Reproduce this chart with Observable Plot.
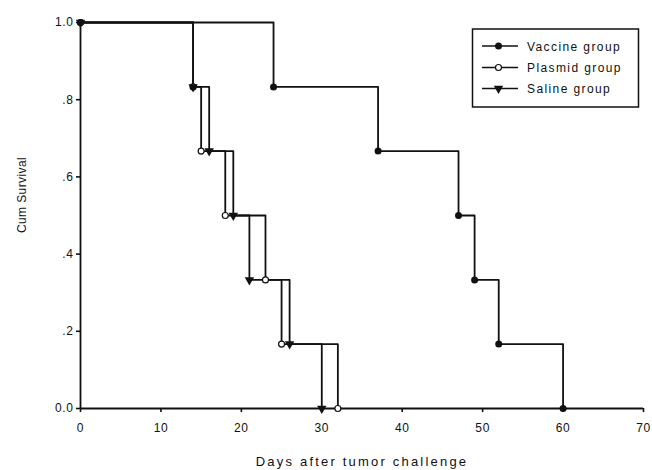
<!DOCTYPE html>
<html>
<head>
<meta charset="utf-8">
<script src="https://cdn.jsdelivr.net/npm/d3@7"></script>
<script src="https://cdn.jsdelivr.net/npm/@observablehq/plot@0.6"></script>
<style>
  html, body { margin: 0; padding: 0; background: #fff; }
  #chart { position: relative; width: 652px; height: 470px; }
</style>
</head>
<body>
<div id="chart"></div>
<script>
const groups = ["Vaccine group", "Plasmid group", "Saline group"];
const vaccineDays = [0, 24, 37, 47, 49, 52, 60];
const vaccineSurv = [1, 0.833, 0.667, 0.5, 0.333, 0.167, 0];
const plasmidDays = [0, 14, 15, 18, 23, 25, 32];
const plasmidSurv = [1, 0.833, 0.667, 0.5, 0.333, 0.167, 0];
const salineDays = [0, 14, 16, 19, 21, 26, 30];
const salineSurv = [1, 0.833, 0.667, 0.5, 0.333, 0.167, 0];
const dayTicks = [0, 10, 20, 30, 40, 50, 60, 70];
const survTicks = [0, 0.2, 0.4, 0.6, 0.8, 1];
const survTickLabels = ["0.0", ".2", ".4", ".6", ".8", "1.0"];
const xLabel = "Days after tumor challenge";
const yLabel = "Cum Survival";

const series = [
  {group: groups[0], days: vaccineDays, surv: vaccineSurv},
  {group: groups[1], days: plasmidDays, surv: plasmidSurv},
  {group: groups[2], days: salineDays, surv: salineSurv}
];
const rows = series.flatMap(s => s.days.map((d, i) => ({group: s.group, day: d, surv: s.surv[i]})));
const byGroup = g => rows.filter(r => r.group === g);

const font = "'Liberation Sans', Arial, sans-serif";
const ink = "#111";

const plot = Plot.plot({
  width: 652,
  height: 470,
  marginLeft: 80,
  marginRight: 9,
  marginTop: 22,
  marginBottom: 62,
  style: {fontFamily: font, fontSize: "12px", color: ink, background: "white", overflow: "visible"},
  x: {domain: [0, 70], label: null},
  y: {domain: [0, 1], label: null},
  marks: [
    Plot.axisX({ticks: dayTicks, tickSize: 4, tickPadding: 11, label: null, strokeWidth: 1.6, stroke: ink, fill: ink}),
    Plot.axisY({ticks: survTicks, tickFormat: d => survTickLabels[survTicks.indexOf(d)], tickSize: 4, tickPadding: 3, label: null, strokeWidth: 1.6, stroke: ink, fill: ink}),
    Plot.ruleY([0], {stroke: ink, strokeWidth: 1.8}),
    Plot.ruleX([0], {stroke: ink, strokeWidth: 1.8}),
    Plot.line(rows, {x: "day", y: "surv", z: "group", curve: "step-after", stroke: ink, strokeWidth: 1.8}),
    Plot.dot(byGroup(groups[0]), {x: "day", y: "surv", r: 3.5, fill: ink, symbol: "circle"}),
    Plot.dot(byGroup(groups[1]), {x: "day", y: "surv", r: 3, fill: "white", stroke: ink, strokeWidth: 1.2, symbol: "circle"}),
    Plot.dot(byGroup(groups[2]), {x: "day", y: "surv", r: 4.5, fill: ink, symbol: "triangle2", rotate: 180})
  ]
});

document.getElementById("chart").appendChild(plot);

const svg = d3.select(plot);
svg.selectAll("text").style("letter-spacing", "0.6px");

// axis titles
svg.append("text")
  .attr("x", 362).attr("y", 466)
  .attr("text-anchor", "middle")
  .style("font-family", font).style("font-size", "13px").style("letter-spacing", "2.2px")
  .attr("fill", ink)
  .text(xLabel);
svg.append("text")
  .attr("transform", "translate(26,195) rotate(-90)")
  .attr("text-anchor", "middle")
  .style("font-family", font).style("font-size", "12px").style("letter-spacing", "0.4px")
  .attr("fill", ink)
  .text(yLabel);

// legend
const lg = svg.append("g");
lg.append("rect").attr("x", 472.5).attr("y", 29).attr("width", 166).attr("height", 78)
  .attr("fill", "white").attr("stroke", ink).attr("stroke-width", 1.5);
const rowY = [46, 67.5, 88.5];
groups.forEach((g, i) => {
  const y = rowY[i];
  lg.append("line").attr("x1", 482).attr("x2", 518).attr("y1", y).attr("y2", y)
    .attr("stroke", ink).attr("stroke-width", 1.6);
  if (i === 0) {
    lg.append("circle").attr("cx", 498.5).attr("cy", y).attr("r", 3.5).attr("fill", ink);
  } else if (i === 1) {
    lg.append("circle").attr("cx", 498.5).attr("cy", y).attr("r", 3).attr("fill", "white").attr("stroke", ink).attr("stroke-width", 1.2);
  } else {
    lg.append("path").attr("transform", `translate(498.5,${y}) rotate(180)`)
      .attr("d", d3.symbol(d3.symbolTriangle2, Math.PI * 4.5 * 4.5)()).attr("fill", ink);
  }
  lg.append("text").attr("x", 527).attr("y", y + 4.5)
    .attr("text-anchor", "start")
    .style("font-family", font).style("font-size", "12px").style("letter-spacing", "1.4px")
    .attr("fill", ink).text(g);
});
</script>
</body>
</html>
